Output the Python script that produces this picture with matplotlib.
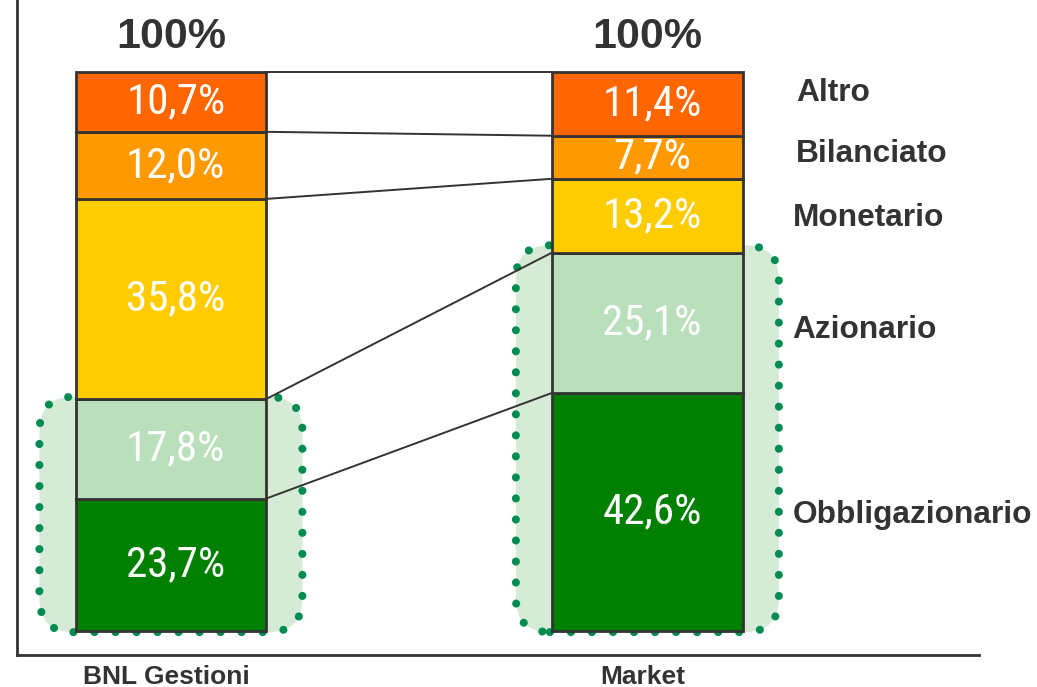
import matplotlib
matplotlib.use("Agg")
import matplotlib.pyplot as plt
from matplotlib.patches import FancyBboxPatch
import numpy as np

# dati
gruppi = ["BNL Gestioni", "Market"]
categorie = ["Obbligazionario", "Azionario", "Monetario", "Bilanciato", "Altro"]
bnl = [23.7, 17.8, 35.8, 12.0, 10.7]
market = [42.6, 25.1, 13.2, 7.7, 11.4]
totali = ["100%", "100%"]
colori = ["#008000", "#B9DFBB", "#FFCC00", "#FF9900", "#FF6600"]

testo_scuro = "#333333"
font_num = ["Roboto Condensed", "Liberation Sans Narrow", "DejaVu Sans"]
font_bold = ["Liberation Sans", "DejaVu Sans"]

fig = plt.figure(figsize=(10.37, 6.87), dpi=100)
ax = fig.add_axes([17 / 1037, 32 / 687, (979 - 17) / 1037, 655 / 687])

larg = 0.4
xs = np.arange(len(gruppi))
valori = [bnl, market]

# riquadri arrotondati per la parte obbligazionaria+azionaria
px_x, px_y = 476.5, 5.59
for i, vals in enumerate(valori):
    top = vals[0] + vals[1] + (0.4 if i == 0 else 1.3)
    x0 = xs[i] - 0.276
    for fill in (True, False):
        p = FancyBboxPatch((x0, -0.2), 0.552, top + 0.2,
                           boxstyle="round,pad=0,rounding_size=%f" % (34 / px_x),
                           mutation_aspect=px_x / px_y,
                           facecolor="#D6EBD6" if fill else "none",
                           edgecolor="none" if fill else "#008C50",
                           linewidth=5.8, linestyle=(0, (0.01, 2.6)),
                           zorder=1 if fill else 1.5)
        if not fill:
            p.set_capstyle("round")
        ax.add_patch(p)

# barre impilate
for i, vals in enumerate(valori):
    base = 0
    for j, v in enumerate(vals):
        ax.bar(xs[i], v, bottom=base, width=larg, color=colori[j],
               edgecolor=testo_scuro, linewidth=2, zorder=2)
        ax.text(xs[i] + 0.01, base + v / 2, ("%.1f%%" % v).replace(".", ","),
                ha="center", va="center", color="white", fontsize=31,
                family=font_num, zorder=3)
        base += v
    ax.text(xs[i], 106.3, totali[i], ha="center", va="center", fontsize=31,
            fontweight="bold", color=testo_scuro, family=font_bold)

# linee di collegamento
c1 = np.cumsum(bnl)
c2 = np.cumsum(market)
for a, b in zip(c1, c2):
    ax.plot([xs[0] + larg / 2, xs[1] - larg / 2], [a, b], color=testo_scuro,
            linewidth=1.4, zorder=2.5)

# etichette categorie a destra
mid = c2 - np.array(market) / 2
spost = [-0.5, -1.3, -0.4, 0.6, 2.0]
xoff = [0.305, 0.305, 0.305, 0.312, 0.312]
for j, nome in enumerate(categorie):
    ax.text(xs[1] + xoff[j], mid[j] + spost[j], nome, ha="left", va="center",
            fontsize=22.8, fontweight="bold", color=testo_scuro,
            family=font_bold)

ax.set_xlim(-0.323, 1.696)
ax.set_ylim(-4.29, 112.88)
ax.set_xticks(xs - 0.01)
ax.set_xticklabels(gruppi, fontsize=19, fontweight="bold", color=testo_scuro,
                   family=font_bold)
ax.tick_params(axis="x", length=0, pad=7)
ax.set_yticks([])
for s in ["top", "right"]:
    ax.spines[s].set_visible(False)
for s in ["left", "bottom"]:
    ax.spines[s].set_color(testo_scuro)
    ax.spines[s].set_linewidth(2)

fig.savefig("out.png", dpi=100)
